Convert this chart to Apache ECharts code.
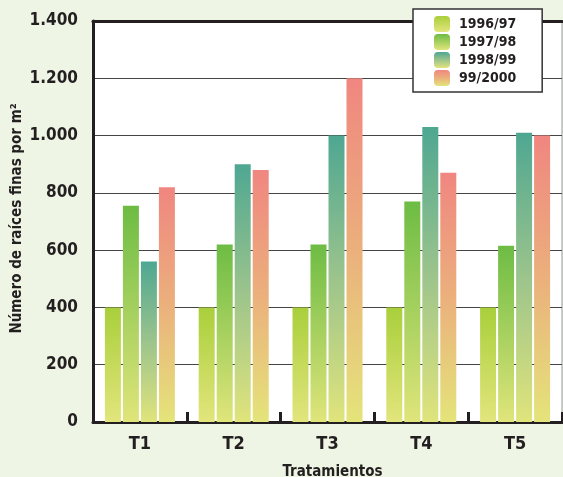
<!DOCTYPE html>
<html>
<head>
<meta charset="utf-8">
<script src="https://cdn.jsdelivr.net/npm/echarts@6/dist/echarts.min.js"></script>
<style>
  html, body { margin: 0; padding: 0; background: #eef5e4; }
  #chart { width: 563px; height: 477px; }
</style>
</head>
<body>
<div id="chart"></div>
<script>
// Treatments and yearly fine-root counts (per m²)
const categories = ['T1', 'T2', 'T3', 'T4', 'T5'];
const seasons = ['1996/97', '1997/98', '1998/99', '99/2000'];
const v1996 = [400, 400, 400, 400, 400];
const v1997 = [755, 620, 620, 770, 615];
const v1998 = [560, 900, 1000, 1030, 1010];
const v1999 = [820, 880, 1200, 870, 1000];
const yTicks = [0, 200, 400, 600, 800, 1000, 1200, 1400];

const FONT = "'Liberation Sans Narrow', 'DejaVu Sans Condensed', 'Arial Narrow', sans-serif";
const INK = '#231f20';

function grad(stops) {
  return {
    type: 'linear', x: 0, y: 0, x2: 0, y2: 1,
    colorStops: stops.map(s => ({ offset: s[0], color: s[1] }))
  };
}

const fills = [
  grad([[0, '#a9cf3b'], [1, '#e2e57c']]),
  grad([[0, '#6dbc44'], [1, '#e0e57a']]),
  grad([[0, '#4ea792'], [0.5, '#9cc48c'], [1, '#e0e47b']]),
  grad([[0, '#f08680'], [0.5, '#ebb07c'], [1, '#e4e47a']])
];
const valueSets = [v1996, v1997, v1998, v1999];

const chart = echarts.init(document.getElementById('chart'), null, { renderer: 'canvas' });

chart.setOption({
  backgroundColor: '#eef5e4',
  animation: false,
  textStyle: { fontFamily: FONT },
  grid: {
    left: 93, right: 1, top: 21, bottom: 55,
    containLabel: false,
    outerBoundsMode: 'none',
    show: true, backgroundColor: '#ffffff',
    borderColor: '#9a9a9a', borderWidth: 1
  },
  legend: {
    orient: 'vertical',
    left: 413, top: 9,
    data: seasons,
    itemWidth: 16, itemHeight: 16, itemGap: 2,
    padding: [7, 26, 6, 21],
    backgroundColor: '#ffffff',
    borderColor: '#333333', borderWidth: 1.5,
    textStyle: { fontFamily: FONT, fontWeight: 'bold', fontSize: 14, color: INK, padding: [0, 0, 0, 4] }
  },
  xAxis: [
    {
      type: 'category',
      data: categories,
      position: 'bottom',
      axisLine: { lineStyle: { color: INK, width: 3 } },
      axisTick: { show: true, inside: true, length: 10, lineStyle: { color: INK, width: 3 } },
      axisLabel: { fontFamily: FONT, fontWeight: 'bold', fontSize: 18, color: INK, margin: 13 },
      name: 'Tratamientos',
      nameLocation: 'middle',
      nameGap: 43,
      nameMoveOverlap: false,
      nameTextStyle: { fontFamily: FONT, fontWeight: 'bold', fontSize: 15, color: INK, padding: [0, 0, 0, 10] }
    },
    {
      type: 'category',
      data: categories,
      position: 'top',
      axisLine: { lineStyle: { color: INK, width: 3 } },
      axisTick: { show: false },
      axisLabel: { show: false }
    }
  ],
  yAxis: {
    type: 'value',
    min: yTicks[0],
    max: yTicks[yTicks.length - 1],
    interval: 200,
    axisLine: { show: true, lineStyle: { color: INK, width: 3 } },
    axisTick: { show: false },
    splitLine: { lineStyle: { color: '#444444', width: 1.2 } },
    axisLabel: {
      fontFamily: FONT, fontWeight: 'bold', fontSize: 17, color: INK, margin: 15,
      formatter: v => v >= 1000 ? String(v).replace(/(\d)(\d{3})$/, '$1.$2') : String(v)
    },
    name: 'Número de raíces finas por m²',
    nameLocation: 'middle',
    nameGap: 68,
    nameMoveOverlap: false,
    nameTextStyle: { fontFamily: FONT, fontWeight: 'bold', fontSize: 15, color: INK, padding: [0, 0, 0, 6] }
  },
  series: seasons.map((name, i) => ({
    name: name,
    type: 'bar',
    data: valueSets[i],
    barWidth: 16,
    barGap: '12.5%',
    itemStyle: { color: fills[i] }
  }))
});
</script>
</body>
</html>
